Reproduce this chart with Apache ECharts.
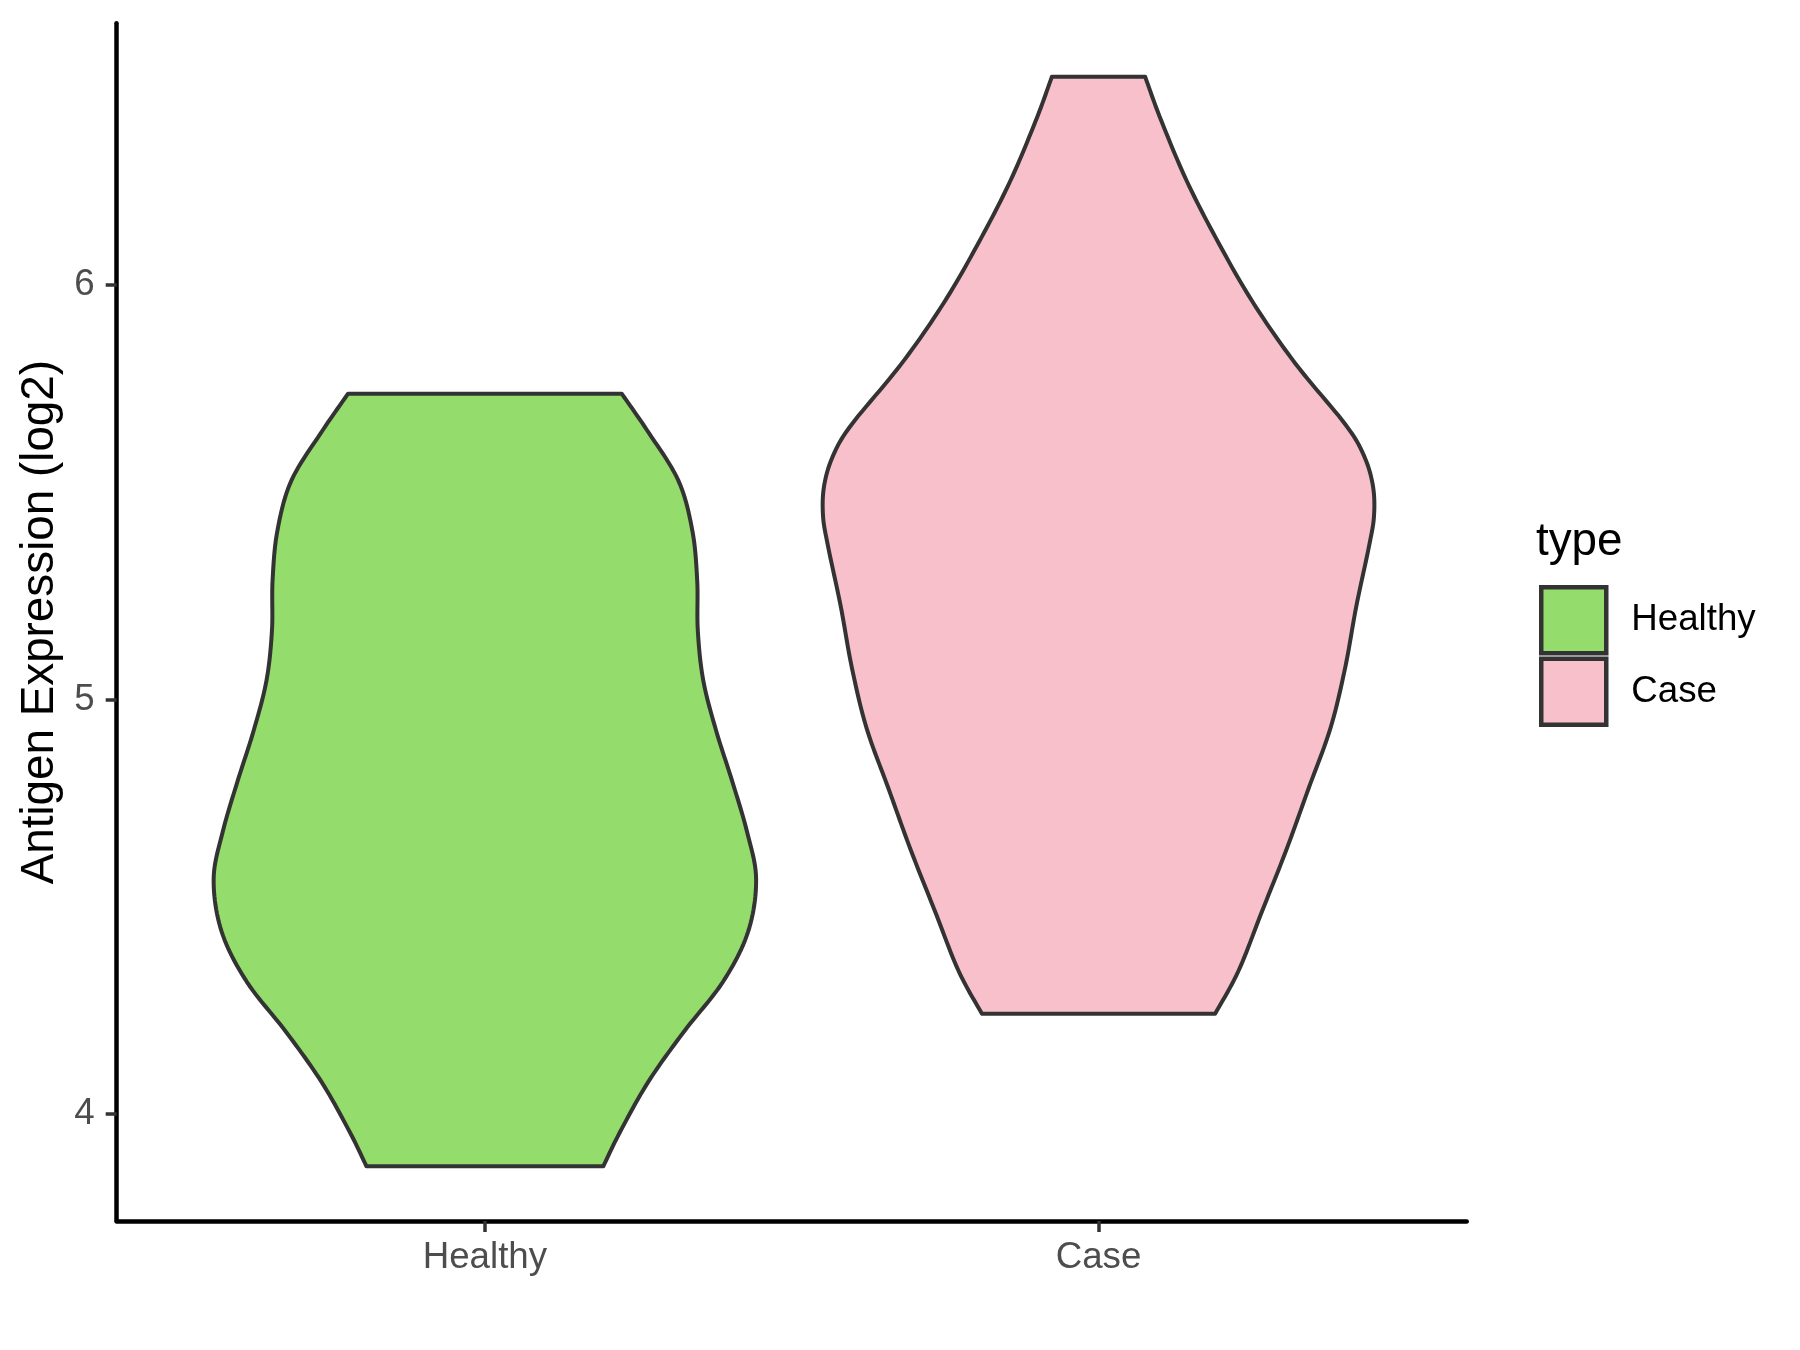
<!DOCTYPE html>
<html><head><meta charset="utf-8">
<script src="https://cdn.jsdelivr.net/npm/echarts@6/dist/echarts.min.js"></script>
<style>html,body{margin:0;padding:0;background:#fff}#c{width:1800px;height:1350px}</style>
</head><body><div id="c"></div>
<script>
const categories = ['Healthy', 'Case'];
const yTicks = [4, 5, 6];
const healthyY = [5.7375, 5.650, 5.529, 5.408, 5.287, 5.166, 5.045, 4.924, 4.803, 4.682, 4.567, 4.440, 4.319, 4.198, 4.077, 3.956, 3.874];
const healthyHalfWidth = [0.223, 0.264, 0.315, 0.338, 0.346, 0.347, 0.356, 0.377, 0.403, 0.427, 0.442, 0.429, 0.388, 0.324, 0.266, 0.220, 0.193];
const caseY = [6.502, 6.397, 6.250, 6.103, 5.957, 5.810, 5.664, 5.590, 5.517, 5.444, 5.371, 5.224, 5.077, 4.931, 4.784, 4.637, 4.491, 4.345, 4.242];
const caseHalfWidth = [0.076, 0.102, 0.144, 0.195, 0.252, 0.321, 0.402, 0.432, 0.447, 0.449, 0.441, 0.420, 0.402, 0.378, 0.342, 0.306, 0.267, 0.228, 0.190];
const fills = ['#94DC6B', '#F8C0CB'];

const FONT = '"Liberation Sans", Arial, Helvetica, sans-serif';

function smoothSide(pts) {
  const out = [];
  const n = pts.length;
  for (let i = 0; i < n - 1; i++) {
    const p0 = pts[Math.max(0, i - 1)], p1 = pts[i], p2 = pts[i + 1], p3 = pts[Math.min(n - 1, i + 2)];
    const steps = 12;
    for (let s = 0; s < steps; s++) {
      const t = s / steps, t2 = t * t, t3 = t2 * t;
      const f = (a, b, c, d) => 0.5 * ((2 * b) + (-a + c) * t + (2 * a - 5 * b + 4 * c - d) * t2 + (-a + 3 * b - 3 * c + d) * t3);
      out.push([f(p0[0], p1[0], p2[0], p3[0]), f(p0[1], p1[1], p2[1], p3[1])]);
    }
  }
  out.push(pts[n - 1]);
  return out;
}

function makeRender(ys, ws, xc, fill) {
  return function (params, api) {
    const left = ys.map((y, i) => api.coord([xc - ws[i], y]));
    const right = ys.map((y, i) => api.coord([xc + ws[i], y]));
    const pts = smoothSide(left).concat(smoothSide(right).reverse());
    return {
      type: 'polygon',
      shape: { points: pts },
      style: { fill: fill, stroke: '#333333', lineWidth: 4, lineJoin: 'round' }
    };
  };
}

const chart = echarts.init(document.getElementById('c'), null, { renderer: 'canvas' });
chart.setOption({
  animation: false,
  backgroundColor: '#ffffff',
  grid: { left: 116.7, right: 333.3, top: 23.3, bottom: 129, outerBoundsMode: 'none', containLabel: false },
  title: {
    text: 'type', left: 1531, top: 514,
    textStyle: { fontFamily: FONT, fontSize: 45.8, fontWeight: 'normal', color: '#000000' }
  },
  legend: {
    orient: 'vertical', left: 1534, top: 580,
    data: categories, icon: 'rect', itemWidth: 65, itemHeight: 66, itemGap: 1,
    itemStyle: { borderColor: '#333333', borderWidth: 4.5 },
    textStyle: { fontFamily: FONT, fontSize: 36.7, color: '#000000', padding: [0, 0, 0, 20] },
    selectedMode: false
  },
  xAxis: {
    type: 'value', min: 0.4, max: 2.6,
    splitLine: { show: false },
    axisLine: { show: true, lineStyle: { color: '#000000', width: 4.5 } },
    axisTick: { show: true, customValues: categories.map((c, i) => i + 1), length: 11, lineStyle: { color: '#333333', width: 3.5 } },
    axisLabel: {
      customValues: categories.map((c, i) => i + 1),
      formatter: v => categories[Math.round(v) - 1] || '',
      fontFamily: FONT, fontSize: 36.7, color: '#4D4D4D', margin: 18
    }
  },
  yAxis: {
    type: 'value', min: 3.742, max: 6.631,
    name: 'Antigen Expression (log2)', nameLocation: 'middle', nameGap: 50,
    nameTextStyle: { fontFamily: FONT, fontSize: 45.8, color: '#000000' },
    splitLine: { show: false },
    axisLine: { show: true, lineStyle: { color: '#000000', width: 4.5 } },
    axisTick: { show: true, customValues: yTicks, length: 11, lineStyle: { color: '#333333', width: 3.5 } },
    axisLabel: {
      customValues: yTicks,
      fontFamily: FONT, fontSize: 36.7, color: '#4D4D4D', margin: 22
    }
  },
  series: [
    {
      name: categories[0], type: 'custom', coordinateSystem: 'cartesian2d',
      data: [[1, healthyY[0]]], clip: false, silent: true,
      itemStyle: { color: fills[0], borderColor: '#333333', borderWidth: 4.5 },
      renderItem: makeRender(healthyY, healthyHalfWidth, 1, fills[0])
    },
    {
      name: categories[1], type: 'custom', coordinateSystem: 'cartesian2d',
      data: [[2, caseY[0]]], clip: false, silent: true,
      itemStyle: { color: fills[1], borderColor: '#333333', borderWidth: 4.5 },
      renderItem: makeRender(caseY, caseHalfWidth, 2, fills[1])
    }
  ]
});
</script>
</body></html>
